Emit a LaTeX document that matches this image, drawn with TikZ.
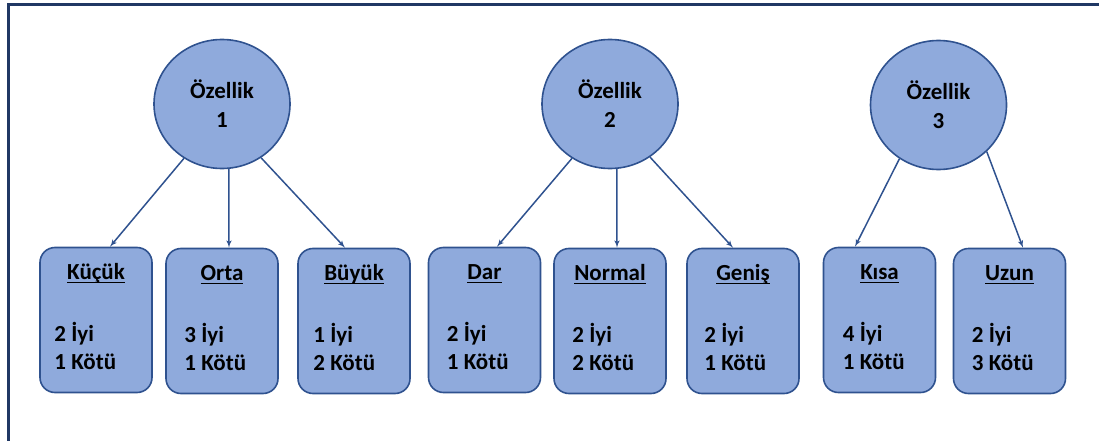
\documentclass[tikz,border=0pt]{standalone}
\usepackage{fontspec}
\setmainfont{Carlito}
\usetikzlibrary{shapes,arrows,positioning}

\definecolor{frameblue}{HTML}{203864}
\definecolor{lineblue}{HTML}{2F528F}
\definecolor{fillblue}{HTML}{8FAADC}

% underlined box title
\newcommand{\undertitle}[1]{\setbox0\hbox{#1}\rlap{\rule[-3.5pt]{\wd0}{1.6pt}}\box0}

\begin{document}
\begin{tikzpicture}[x=1pt, y=-1pt, >=latex',
  feat/.style={draw=lineblue, line width=1.6pt, fill=fillblue, ellipse, minimum width=136pt, minimum height=129pt, inner sep=0pt, align=center, font=\fontsize{23}{29}\selectfont\bfseries},
  leaf/.style={draw=lineblue, line width=1.6pt, fill=fillblue, rectangle, rounded corners=15pt, minimum width=112pt, minimum height=145pt},
  head/.style={inner sep=0pt, font=\fontsize{23}{28}\selectfont\bfseries},
  count/.style={inner sep=0pt, align=left, font=\fontsize{23}{28}\selectfont\bfseries},
  link/.style={->, draw=lineblue, line width=1.5pt}]
  \useasboundingbox (0,0) rectangle (1099,441);
  \draw [frameblue, line width=3pt] (8,441) -- (8,5) -- (1099,5);

  % features
  \node [feat] (f1) at (222,104) {Özellik\\1};
  \node [feat] (f2) at (610,104) {Özellik\\2};
  \node [feat] (f3) at (938.5,105) {Özellik\\3};

  % value boxes
  \node [leaf] (kucuk) at (96,320) {};
  \node [leaf] (orta) at (222,321) {};
  \node [leaf] (buyuk) at (354,321) {};
  \node [leaf] (dar) at (484.5,320) {};
  \node [leaf] (normal) at (610,321) {};
  \node [leaf] (genis) at (743,321) {};
  \node [leaf] (kisa) at (879.5,320) {};
  \node [leaf] (uzun) at (1009.5,321) {};

  \node [head, below=33pt of kucuk.north, anchor=base] {\undertitle{Küçük}};
  \node [head, below=33pt of orta.north, anchor=base] {\undertitle{Orta}};
  \node [head, below=33pt of buyuk.north, anchor=base] {\undertitle{Büyük}};
  \node [head, below=33pt of dar.north, anchor=base] {\undertitle{Dar}};
  \node [head, below=33pt of normal.north, anchor=base] {\undertitle{Normal}};
  \node [head, below=33pt of genis.north, anchor=base] {\undertitle{Geniş}};
  \node [head, below=33pt of kisa.north, anchor=base] {\undertitle{Kısa}};
  \node [head, below=33pt of uzun.north, anchor=base] {\undertitle{Uzun}};

  \node [count, right=15pt of kucuk.west, yshift=-26pt] {2 İyi\\1 Kötü};
  \node [count, right=19pt of orta.west, yshift=-26pt] {3 İyi\\1 Kötü};
  \node [count, right=16pt of buyuk.west, yshift=-26pt] {1 İyi\\2 Kötü};
  \node [count, right=19pt of dar.west, yshift=-26pt] {2 İyi\\1 Kötü};
  \node [count, right=19pt of normal.west, yshift=-26pt] {2 İyi\\2 Kötü};
  \node [count, right=18pt of genis.west, yshift=-26pt] {2 İyi\\1 Kötü};
  \node [count, right=20pt of kisa.west, yshift=-26pt] {4 İyi\\1 Kötü};
  \node [count, right=19pt of uzun.west, yshift=-26pt] {2 İyi\\3 Kötü};

  \draw [link] (f1.235) -- ([xshift=14pt]kucuk.north);
  \draw [link] (f1.276) -- ([xshift=7pt]orta.north);
  \draw [link] (f1.306) -- ([xshift=-9pt]buyuk.north);
  \draw [link] (f2.235) -- ([xshift=12.5pt]dar.north);
  \draw [link] (f2.276) -- ([xshift=7pt]normal.north);
  \draw [link] (f2.307) -- ([xshift=-10pt]genis.north);
  \draw [link] (f3.234) -- ([xshift=-24.5pt]kisa.north);
  \draw [link] (f3.316) -- ([xshift=13.5pt]uzun.north);
\end{tikzpicture}
\end{document}
